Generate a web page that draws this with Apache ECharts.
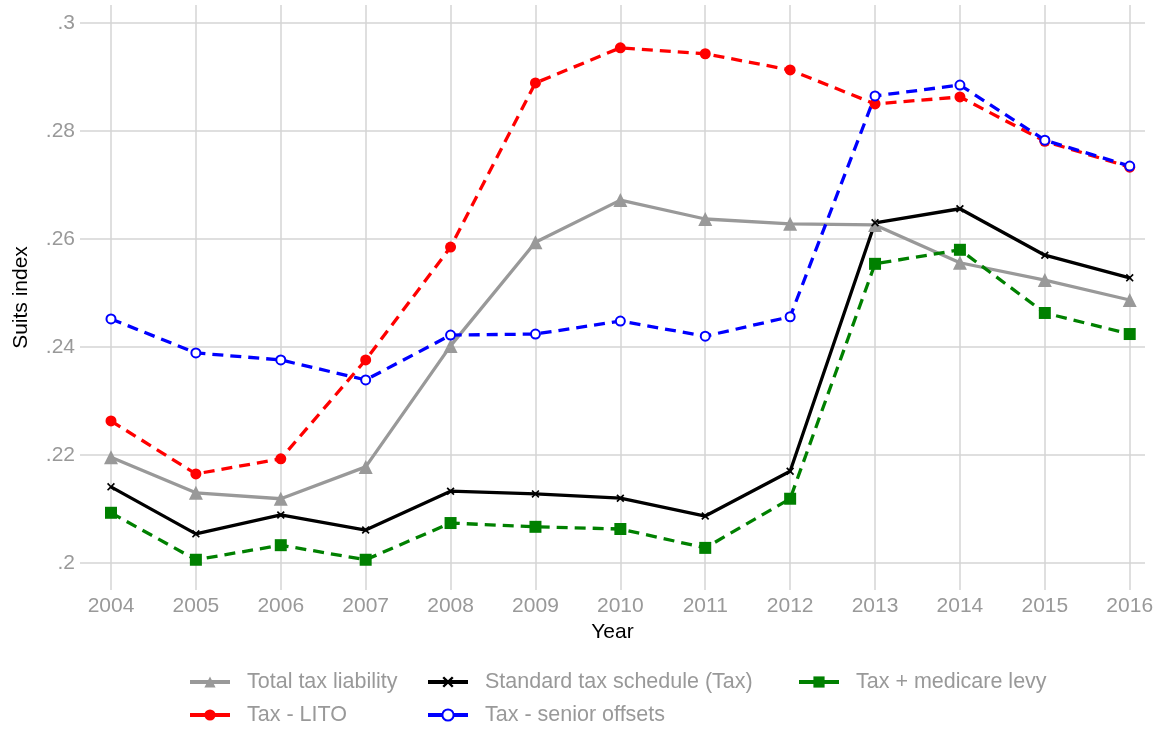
<!DOCTYPE html>
<html>
<head>
<meta charset="utf-8">
<script src="https://cdn.jsdelivr.net/npm/echarts@6/dist/echarts.min.js"></script>
<style>
	html, body { margin: 0; padding: 0; background: #fff; }
	#chart { width: 1162px; height: 729px; }
</style>
</head>
<body>
<div id="chart"></div>
<script>
	// years on the x axis
	var years = [2004, 2005, 2006, 2007, 2008, 2009, 2010, 2011, 2012, 2013, 2014, 2015, 2016];
	var yTicks = [0.2, 0.22, 0.24, 0.26, 0.28, 0.3];

	// suits index
	var totalTax = [0.2196, 0.2130, 0.2119, 0.2178, 0.2402, 0.2594, 0.2672, 0.2637, 0.2628, 0.2626, 0.2556, 0.2524, 0.2487];
	var standardTax = [0.2141, 0.2054, 0.2089, 0.2061, 0.2133, 0.2128, 0.2120, 0.2087, 0.2170, 0.2630, 0.2656, 0.2570, 0.2528];
	var medicare = [0.2093, 0.2006, 0.2033, 0.2006, 0.2074, 0.2067, 0.2063, 0.2028, 0.2119, 0.2554, 0.2580, 0.2463, 0.2424];
	var lito = [0.2263, 0.2165, 0.2193, 0.2376, 0.2585, 0.2889, 0.2954, 0.2943, 0.2913, 0.2850, 0.2863, 0.2781, 0.2733];
	var senior = [0.2452, 0.2389, 0.2376, 0.2339, 0.2422, 0.2424, 0.2448, 0.2420, 0.2456, 0.2865, 0.2885, 0.2783, 0.2735];

	function pairs(vals) {
		return years.map(function (y, i) { return [y, vals[i]]; });
	}

	var crossSym = 'path://M1.5,0L5,3.5L8.5,0L10,1.5L6.5,5L10,8.5L8.5,10L5,6.5L1.5,10L0,8.5L3.5,5L0,1.5Z';
	var font = 'Liberation Sans, Arial, sans-serif';

	var chart = echarts.init(document.getElementById('chart'), null, { renderer: 'canvas' });

	function mkLine(name, vals, color, symbol, size, dashed, extra) {
		var s = {
			name: name,
			type: 'line',
			data: pairs(vals),
			symbol: symbol,
			symbolSize: size,
			showSymbol: true,
			animation: false,
			lineStyle: { color: color, width: 3.3, type: dashed ? [11, 7] : 'solid' },
			itemStyle: { color: color }
		};
		if (extra) Object.assign(s, extra);
		return s;
	}

	var legendText = { color: '#999999', fontSize: 21.5, fontFamily: font, padding: [0, 0, 0, 12] };
	function mkLegend(names, left) {
		return {
			data: names, orient: 'vertical', left: left, top: 671, padding: 0,
			itemWidth: 40, itemHeight: 14, itemGap: 11, textStyle: legendText,
			lineStyle: { type: 'solid', width: 4 }
		};
	}

	chart.setOption({
		backgroundColor: '#ffffff',
		grid: { left: 80, right: 17, top: 5, bottom: 139, outerBoundsMode: 'none', containLabel: false },
		legend: [
			mkLegend(['Total tax liability', 'Tax - LITO'], 188),
			mkLegend(['Standard tax schedule (Tax)', 'Tax - senior offsets'], 426),
			mkLegend(['Tax + medicare levy'], 797)
		],
		xAxis: {
			type: 'value',
			min: 2003.635,
			max: 2016.18,
			name: 'Year',
			nameLocation: 'middle',
			nameGap: 32,
			nameTextStyle: { color: '#000', fontSize: 21, fontFamily: font },
			axisLine: { show: false },
			axisTick: { show: false, customValues: years },
			axisLabel: {
				customValues: years, color: '#999999', fontSize: 21, fontFamily: font, margin: 6,
				formatter: function (v) { return String(Math.round(v)); }
			},
			splitLine: { show: true, lineStyle: { color: '#d4d4d4', width: 1.5 } }
		},
		yAxis: {
			type: 'value',
			min: 0.195,
			max: 0.30333,
			name: 'Suits index',
			nameLocation: 'middle',
			nameGap: 48,
			nameTextStyle: { color: '#000', fontSize: 21, fontFamily: font },
			axisLine: { show: false },
			axisTick: { show: false, customValues: yTicks },
			axisLabel: {
				customValues: yTicks,
				color: '#999999', fontSize: 21, fontFamily: font, margin: 5,
				formatter: function (v) { return String(+v.toFixed(2)).replace(/^0/, ''); }
			},
			splitLine: { show: true, lineStyle: { color: '#d4d4d4', width: 1.5 } }
		},
		series: [
			mkLine('Total tax liability', totalTax, '#999999', 'triangle', 14, false),
			mkLine('Standard tax schedule (Tax)', standardTax, '#000000', crossSym, 8, false),
			mkLine('Tax + medicare levy', medicare, '#008000', 'rect', 12, true),
			mkLine('Tax - LITO', lito, '#ff0000', 'circle', 11, true),
			mkLine('Tax - senior offsets', senior, '#0000ff', 'emptyCircle', 9, true, {
				itemStyle: { color: '#0000ff', borderColor: '#0000ff', borderWidth: 2 }
			})
		]
	});
</script>
</body>
</html>
